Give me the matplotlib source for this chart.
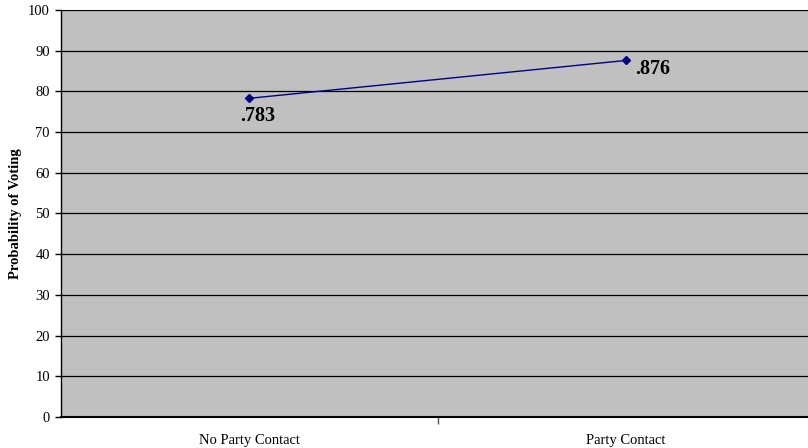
import matplotlib.pyplot as plt

categories = ["No Party Contact", "Party Contact"]
probability = [78.3, 87.6]
point_labels = [".783", ".876"]

plt.rcParams['font.family'] = ['Liberation Serif', 'DejaVu Serif']

fig = plt.figure(figsize=(8.08, 4.48), dpi=100)
# plot area runs off the right edge like the original
ax = fig.add_axes([61/808, 1 - 417/448, 753/808, 407/448])
ax.set_facecolor('#C0C0C0')

x = list(range(len(categories)))
ax.plot(x, probability, color='#000080', linewidth=1, marker='D', markersize=4)

offsets = [(-6.5, -12.5), (6.5, -6)]
for xi, yi, lab, off in zip(x, probability, point_labels, offsets):
    ax.annotate(lab, (xi, yi), xytext=off, textcoords='offset points',
                fontsize=14.5, fontweight='bold', ha='left', va='center')

ax.set_xlim(-0.5, 1.5)
ax.set_ylim(0, 100)
ax.set_yticks(range(0, 101, 10))
ax.yaxis.grid(True, color='black', linewidth=0.9)
ax.set_axisbelow(True)

ax.set_xticks(x)
ax.set_xticklabels(categories, fontsize=10.5)
ax.set_xticks([0.5], minor=True)
ax.tick_params(axis='x', which='major', length=0, pad=12)
ax.tick_params(axis='x', which='minor', length=5, width=1, color='#555555')
ax.tick_params(axis='y', length=4, width=1, labelsize=10.5, pad=4)

for s in ['top', 'right']:
    ax.spines[s].set_visible(False)
ax.spines['left'].set_linewidth(1)
ax.spines['bottom'].set_linewidth(1.5)

ax.set_ylabel("Probability of Voting", fontsize=10.5, fontweight='bold', labelpad=4.5)

fig.savefig('out.png', dpi=100)
